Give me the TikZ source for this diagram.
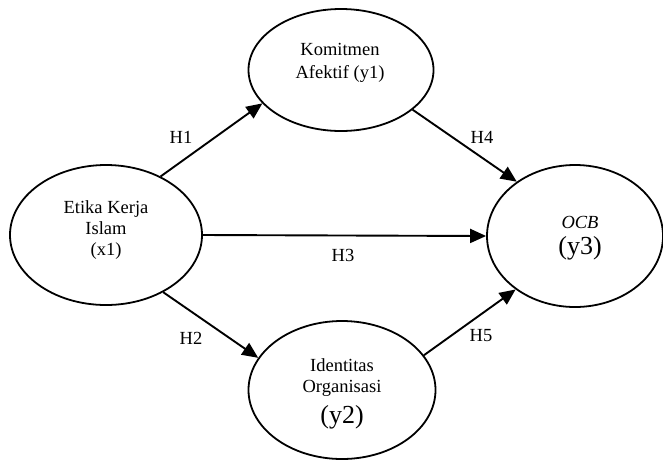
\documentclass[tikz,border=0pt]{standalone}
\usepackage{fontspec}
\setmainfont{Liberation Serif}
\usetikzlibrary{shapes.geometric,arrows.meta}

\begin{document}
\begin{tikzpicture}[x=1pt,y=-1pt,
    var/.style={ellipse,draw,line width=1.8pt,inner sep=0pt},
    path/.style={-{Triangle[length=16pt,width=14pt]},line width=1.9pt},
    txt/.style={align=center,font=\fontsize{18.5}{21}\selectfont},
    hyp/.style={font=\fontsize{18.5}{21}\selectfont}]
    \useasboundingbox (0,0) rectangle (663,459);
    % Draw constructs
    \node[var,minimum width=192pt,minimum height=140pt] (etika) at (106,235) {};
    \node[var,minimum width=185pt,minimum height=122pt] (komitmen) at (341,70) {};
    \node[var,minimum width=187pt,minimum height=138pt] (identitas) at (342,390) {};
    \node[var,minimum width=176pt,minimum height=142pt] (ocb) at (575,236) {};

    % Construct texts
    \node[txt] (etikatxt) at (106,230) {Etika Kerja\\Islam\\(x1)};
    \node[txt] (komitmentxt) at (340,63) {Komitmen\\[2pt]Afektif (y1)};
    \node[txt] (identitastxt) at (342,394) {Identitas\\Organisasi\\[8pt]{\fontsize{26}{29}\selectfont (y2)}};
    \node[txt] (ocbtxt) at (580,238) {\textit{OCB}\\[5pt]{\fontsize{26}{29}\selectfont (y3)}};

    % Draw paths
    \draw[path] (etika.47) -- (komitmen.203); % H1
    \draw[path] (etika.-45) -- (identitas.159); % H2
    \draw[path] (etika.east) -- (ocb.west); % H3
    \draw[path] (komitmen.-29) -- (ocb.137); % H4
    \draw[path] (identitas.23) -- (ocb.222); % H5

    % Label paths
    \node[hyp] (h1) at (181,137) {H1};
    \node[hyp] (h2) at (191,338) {H2};
    \node[hyp] (h3) at (343,255) {H3};
    \node[hyp] (h4) at (482,137) {H4};
    \node[hyp] (h5) at (481,336) {H5};
\end{tikzpicture}
\end{document}
